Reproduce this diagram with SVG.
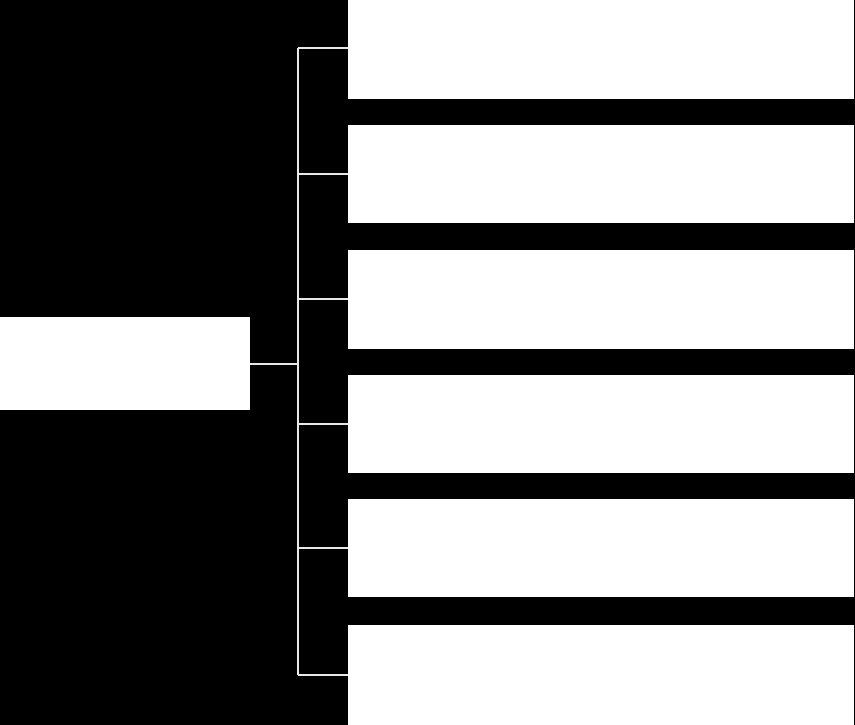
<svg xmlns="http://www.w3.org/2000/svg" width="855" height="725" viewBox="0 0 855 725">
<style>
.node{fill:#ffffff;stroke:none}
.conn{stroke:#e8e8e8;stroke-width:2;fill:none}
</style>
<rect x="0" y="0" width="855" height="725" fill="#000000"/>
<g id="connectors">
<path class="conn" d="M250 364 H298"/>
<path class="conn" d="M298 48 V675"/>
<path class="conn" d="M298 48 H348"/>
<path class="conn" d="M298 174 H348"/>
<path class="conn" d="M298 299 H348"/>
<path class="conn" d="M298 424 H348"/>
<path class="conn" d="M298 548 H348"/>
<path class="conn" d="M298 675 H348"/>
</g>
<g id="root"><rect class="node" x="0" y="317" width="250" height="93"/></g>
<g id="child1"><rect class="node" x="348" y="0" width="506" height="99"/></g>
<g id="child2"><rect class="node" x="348" y="125" width="506" height="98"/></g>
<g id="child3"><rect class="node" x="348" y="250" width="506" height="99"/></g>
<g id="child4"><rect class="node" x="348" y="375" width="506" height="98"/></g>
<g id="child5"><rect class="node" x="348" y="499" width="506" height="98"/></g>
<g id="child6"><rect class="node" x="348" y="625" width="506" height="100"/></g>
</svg>
